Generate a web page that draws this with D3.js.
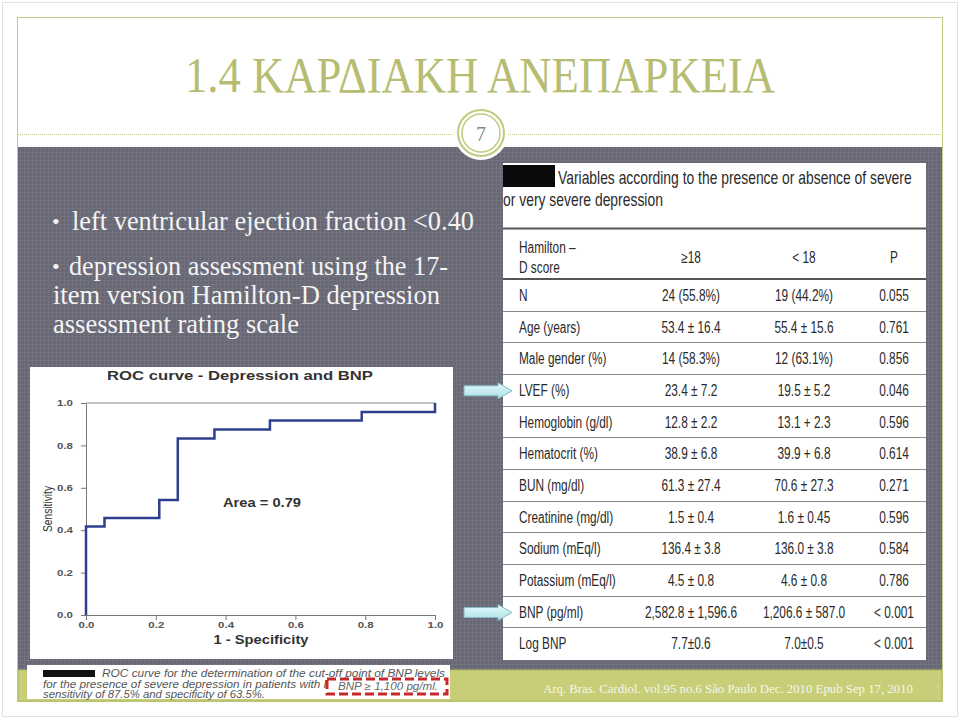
<!DOCTYPE html>
<meta charset="utf-8">
<style>
body { margin: 0; background: #fff; }
svg { display: block; }
.serif { font-family: "Liberation Serif", "DejaVu Serif", serif; }
.narrow { font-family: "Liberation Sans Narrow", "Liberation Sans", Arial, sans-serif; }
.sans { font-family: "Liberation Sans", Arial, sans-serif; }
</style>
<body>
<script src="https://d3js.org/d3.v7.min.js"></script>
<script>

var width = 960,
    height = 720;

// slide text
var slideTitle = "1.4 ΚΑΡΔΙΑΚΗ ΑΝΕΠΑΡΚΕΙΑ",
    slideNumber = "7",
    footer = "Arq. Bras. Cardiol. vol.95 no.6 São Paulo Dec. 2010  Epub Sep 17, 2010";

var bulletLines = [
  {bullet: true,  text: "left ventricular ejection fraction <0.40", x: 72, y: 230, len: 402},
  {bullet: true,  text: "depression assessment using the 17-",    x: 69, y: 275, len: 379},
  {bullet: false, text: "item version Hamilton-D depression",      x: 53, y: 304, len: 387},
  {bullet: false, text: "assessment rating scale",                 x: 53, y: 333, len: 246}
];

// ROC curve
var rocX = [0, 0, 0.053, 0.21, 0.263, 0.368, 0.527, 0.79, 1],
    rocY = [0, 0.417, 0.458, 0.542, 0.833, 0.875, 0.917, 0.958, 1],
    rocTicks = [0, 0.2, 0.4, 0.6, 0.8, 1.0],
    rocArea = "Area = 0.79";

// table
var tableTitle = ["Variables according to the presence or absence of severe", "or very severe depression"],
    tableHeader = ["≥18", "< 18", "P"],
    variables = ["N", "Age (years)", "Male gender (%)", "LVEF (%)", "Hemoglobin (g/dl)", "Hematocrit (%)",
                 "BUN (mg/dl)", "Creatinine (mg/dl)", "Sodium (mEq/l)", "Potassium (mEq/l)", "BNP (pg/ml)", "Log BNP"],
    highGroup = ["24 (55.8%)", "53.4 ± 16.4", "14 (58.3%)", "23.4 ± 7.2", "12.8 ± 2.2", "38.9 ± 6.8",
                 "61.3 ± 27.4", "1.5 ± 0.4", "136.4 ± 3.8", "4.5 ± 0.8", "2,582.8 ± 1,596.6", "7.7±0.6"],
    lowGroup  = ["19 (44.2%)", "55.4 ± 15.6", "12 (63.1%)", "19.5 ± 5.2", "13.1 + 2.3", "39.9 + 6.8",
                 "70.6 ± 27.3", "1.6 ± 0.45", "136.0 ± 3.8", "4.6 ± 0.8", "1,206.6 ± 587.0", "7.0±0.5"],
    pValues   = ["0.055", "0.761", "0.856", "0.046", "0.596", "0.614",
                 "0.271", "0.596", "0.584", "0.786", "< 0.001", "< 0.001"],
    arrowRows = ["LVEF (%)", "BNP (pg/ml)"];

// no narrow font installed: squeeze text horizontally instead
function squeeze(sel, f) {
  sel.each(function() {
    var l = this.getComputedTextLength();
    d3.select(this).attr("textLength", l * f).attr("lengthAdjust", "spacingAndGlyphs");
  });
}

var svg = d3.select("body").append("svg")
    .attr("width", width)
    .attr("height", height);

var defs = svg.append("defs");
var pat = defs.append("pattern")
    .attr("id", "grid")
    .attr("width", 4).attr("height", 4)
    .attr("patternUnits", "userSpaceOnUse");
pat.append("rect").attr("width", 4).attr("height", 4).attr("fill", "#676775");
pat.append("path").attr("d", "M0 0.5H4M0.5 0V4").attr("stroke", "#72727f").attr("stroke-width", 1);

var arrowGrad = defs.append("linearGradient").attr("id", "arrowGrad")
    .attr("x1", 0).attr("y1", 0).attr("x2", 0).attr("y2", 1);
arrowGrad.append("stop").attr("offset", "0%").attr("stop-color", "#e6fbfc");
arrowGrad.append("stop").attr("offset", "100%").attr("stop-color", "#a9dfe4");

// page frame
svg.append("rect")
    .attr("x", 2.5).attr("y", 2.5).attr("width", 955).attr("height", 714)
    .attr("fill", "#fff").attr("stroke", "#e2e2e2");

svg.append("rect")
    .attr("x", 17.5).attr("y", 17.5).attr("width", 925).attr("height", 684)
    .attr("fill", "#fff").attr("stroke", "#c4cb86");

// title
svg.append("text")
    .attr("class", "serif")
    .attr("x", 185).attr("y", 92)
    .attr("textLength", 590)
    .attr("lengthAdjust", "spacingAndGlyphs")
    .attr("font-size", 51)
    .attr("fill", "#b6bd72")
    .text(slideTitle);

// dotted rule
svg.append("line")
    .attr("x1", 18).attr("x2", 942).attr("y1", 134.5).attr("y2", 134.5)
    .attr("stroke", "#c3ca84").attr("stroke-dasharray", "1,1");

// dark content band
svg.append("rect")
    .attr("x", 18).attr("y", 147).attr("width", 924).attr("height", 523)
    .attr("fill", "url(#grid)");

// green footer strip
svg.append("rect")
    .attr("x", 18).attr("y", 670).attr("width", 924).attr("height", 31)
    .attr("fill", "#c7ce77").attr("stroke", "#b3ba66");

// slide number circle
var num = svg.append("g").attr("transform", "translate(481,133)");
num.append("circle").attr("r", 27).attr("fill", "#fff");
num.append("circle").attr("r", 23).attr("fill", "none").attr("stroke", "#c2c97d").attr("stroke-width", 2);
num.append("circle").attr("r", 19).attr("fill", "none").attr("stroke", "#c2c97d").attr("stroke-width", 1.5);
num.append("text")
    .attr("class", "serif")
    .attr("text-anchor", "middle")
    .attr("y", 8)
    .attr("font-size", 20)
    .attr("fill", "#7d8a86")
    .text(slideNumber);

// bullets
var bl = svg.append("g").attr("class", "serif").attr("fill", "#f4f4f4").attr("font-size", 27);
bl.selectAll("text.line")
  .data(bulletLines)
  .join("text")
    .attr("class", "line")
    .attr("x", d => d.x)
    .attr("y", d => d.y)
    .attr("textLength", d => d.len)
    .attr("lengthAdjust", "spacingAndGlyphs")
    .text(d => d.text);
bl.selectAll("text.dot")
  .data(bulletLines.filter(d => d.bullet))
  .join("text")
    .attr("class", "dot")
    .attr("x", 52)
    .attr("y", d => d.y - 1)
    .attr("font-size", 22)
    .text("•");

// ROC chart image
var roc = svg.append("g");
roc.append("rect")
    .attr("x", 30).attr("y", 367).attr("width", 423).attr("height", 292)
    .attr("fill", "#fff");

var x = d3.scaleLinear().domain([0, 1]).range([86, 435]),
    y = d3.scaleLinear().domain([0, 1]).range([615, 403]);

roc.append("text")
    .attr("class", "sans")
    .attr("x", 240).attr("y", 380)
    .attr("text-anchor", "middle")
    .attr("font-size", 13).attr("font-weight", "bold")
    .attr("textLength", 266).attr("lengthAdjust", "spacingAndGlyphs")
    .attr("fill", "#333")
    .text("ROC curve - Depression and BNP");

roc.append("line")
    .attr("x1", x(0)).attr("x2", x(1)).attr("y1", y(1)).attr("y2", y(1))
    .attr("stroke", "#888");

var xAxis = roc.append("g")
    .attr("transform", "translate(0," + y(0) + ")")
    .call(d3.axisBottom(x).tickValues(rocTicks).tickFormat(d3.format(".1f")).tickSize(5).tickSizeOuter(0));
var yAxis = roc.append("g")
    .attr("transform", "translate(" + x(0) + ",0)")
    .call(d3.axisLeft(y).tickValues(rocTicks).tickFormat(d3.format(".1f")).tickSize(5).tickSizeOuter(0));

[xAxis, yAxis].forEach(function(a) {
  a.select(".domain").attr("stroke", "#777");
  a.selectAll(".tick line").attr("stroke", "#777");
  a.selectAll(".tick text")
      .attr("class", "sans")
      .attr("font-size", 8.5).attr("font-weight", "bold")
      .attr("textLength", 16).attr("lengthAdjust", "spacingAndGlyphs")
      .attr("fill", "#555");
});
xAxis.selectAll(".tick text").attr("y", 7).attr("dy", "0.71em");
yAxis.selectAll(".tick text").attr("x", -13);

roc.append("text")
    .attr("class", "sans")
    .attr("x", 261).attr("y", 644)
    .attr("text-anchor", "middle")
    .attr("font-size", 12.5).attr("font-weight", "bold")
    .attr("textLength", 95).attr("lengthAdjust", "spacingAndGlyphs")
    .attr("fill", "#333")
    .text("1 - Specificity");

roc.append("text")
    .attr("class", "narrow")
    .attr("transform", "translate(52,509) rotate(-90)")
    .attr("text-anchor", "middle")
    .attr("font-size", 13)
    .attr("textLength", 46).attr("lengthAdjust", "spacingAndGlyphs")
    .attr("fill", "#333")
    .text("Sensitivity");

roc.append("text")
    .attr("class", "sans")
    .attr("x", 262).attr("y", 507)
    .attr("text-anchor", "middle")
    .attr("font-size", 12.5).attr("font-weight", "bold")
    .attr("textLength", 78).attr("lengthAdjust", "spacingAndGlyphs")
    .attr("fill", "#333")
    .text(rocArea);

var rocLine = d3.line()
    .x((d, i) => x(rocX[i]))
    .y((d, i) => y(rocY[i]))
    .curve(d3.curveStepAfter);

roc.append("path")
    .datum(rocX)
    .attr("d", rocLine)
    .attr("fill", "none")
    .attr("stroke", "#2e3f8f")
    .attr("stroke-width", 2.5);

// caption box under ROC
var cap = svg.append("g");
cap.append("rect")
    .attr("x", 27).attr("y", 665).attr("width", 423).attr("height", 34)
    .attr("fill", "#fff");
cap.append("rect")
    .attr("x", 43).attr("y", 670).attr("width", 52).attr("height", 7)
    .attr("fill", "#111");
var capText = cap.append("g")
    .attr("class", "sans")
    .attr("font-size", 10)
    .attr("font-style", "italic")
    .attr("fill", "#555");
var capLines = [
  {t: "ROC curve for the determination of the cut-off point of BNP levels", x: 102, y: 677, len: 343},
  {t: "for the presence of severe depression in patients with H", x: 43, y: 688, len: 289},
  {t: "sensitivity of 87.5% and specificity of 63.5%.", x: 43, y: 698, len: 222}
];
capText.selectAll("text")
  .data(capLines)
  .join("text")
    .attr("x", d => d.x).attr("y", d => d.y)
    .attr("textLength", d => d.len).attr("lengthAdjust", "spacingAndGlyphs")
    .text(d => d.t);
cap.append("rect")
    .attr("x", 327).attr("y", 679).attr("width", 120).attr("height", 15)
    .attr("fill", "#fff")
    .attr("stroke", "#c8282b").attr("stroke-width", 3)
    .attr("stroke-dasharray", "9,4");
cap.append("text")
    .attr("class", "sans")
    .attr("font-size", 10.5)
    .attr("font-style", "italic")
    .attr("fill", "#666")
    .attr("x", 338).attr("y", 690)
    .attr("textLength", 100).attr("lengthAdjust", "spacingAndGlyphs")
    .text("BNP ≥ 1,100 pg/ml.");

// footer text
svg.append("text")
    .attr("class", "serif")
    .attr("x", 543).attr("y", 693)
    .attr("textLength", 370)
    .attr("lengthAdjust", "spacingAndGlyphs")
    .attr("font-size", 13)
    .attr("fill", "#f6f6ea")
    .text(footer);
svg.append("text")
    .attr("class", "serif")
    .attr("x", 936).attr("y", 690)
    .attr("font-size", 10)
    .attr("fill", "#f6f6ea")
    .text("·");

// table image
var tb = svg.append("g");
tb.append("rect")
    .attr("x", 503).attr("y", 163).attr("width", 423).attr("height", 497)
    .attr("fill", "#fff");
tb.append("rect")
    .attr("x", 503).attr("y", 165).attr("width", 52).attr("height", 22)
    .attr("fill", "#0a0a0a");

var tText = tb.append("g").attr("class", "narrow").attr("fill", "#2a2a2a");

// title lines: squeezed with a transform so their box is the drawn one
var titlePos = [{x: 558, y: 184, w: 354}, {x: 503, y: 206, w: 160}];
tText.selectAll("text.ttl")
  .data(tableTitle)
  .join("text")
    .attr("class", "ttl")
    .attr("font-size", 17.5)
    .text(d => d)
    .attr("transform", function(d, i) {
      var p = titlePos[i],
          k = p.w / this.getComputedTextLength();
      return "translate(" + p.x + "," + p.y + ") scale(" + k + ",1)";
    });

var colX = [519, 691, 804, 894];

var rows = d3.scaleBand()
    .domain(variables)
    .range([279, 659]);

// rules
tb.append("line").attr("x1", 503).attr("x2", 926).attr("y1", 228.5).attr("y2", 228.5)
    .attr("stroke", "#555").attr("stroke-width", 2);
tb.append("line").attr("x1", 503).attr("x2", 926).attr("y1", 279).attr("y2", 279)
    .attr("stroke", "#555").attr("stroke-width", 2);
tb.selectAll("line.sep")
  .data(variables.slice(1))
  .join("line")
    .attr("class", "sep")
    .attr("x1", 503).attr("x2", 926)
    .attr("y1", d => Math.round(rows(d)) + 0.5)
    .attr("y2", d => Math.round(rows(d)) + 0.5)
    .attr("stroke", "#8a8a8a")
    .attr("stroke-width", 1.2);

// header
tText.append("text").attr("class", "sq").attr("x", colX[0]).attr("y", 253).attr("font-size", 16).text("Hamilton –");
tText.append("text").attr("class", "sq").attr("x", colX[0]).attr("y", 273).attr("font-size", 16).text("D score");
tText.selectAll("text.head")
  .data(tableHeader)
  .join("text")
    .attr("class", "head sq")
    .attr("x", (d, i) => colX[i + 1])
    .attr("y", 263)
    .attr("text-anchor", "middle")
    .attr("font-size", 16)
    .text(d => d);

// body
var cols = [variables, highGroup, lowGroup, pValues];
cols.forEach(function(col, c) {
  tText.selectAll("text.c" + c)
    .data(col)
    .join("text")
      .attr("class", "c" + c + " sq")
      .attr("x", colX[c])
      .attr("y", (d, i) => rows(variables[i]) + rows.bandwidth() / 2 + 6)
      .attr("text-anchor", c === 0 ? "start" : "middle")
      .attr("font-size", 16)
      .text(d => d);
});
squeeze(tText.selectAll("text.sq"), 0.74);

// arrows pointing at rows
svg.selectAll("path.arrow")
  .data(arrowRows)
  .join("path")
    .attr("class", "arrow")
    .attr("transform", d => "translate(464," + (rows(d) + rows.bandwidth() / 2 + 1) + ")")
    .attr("d", "M0,-5H34V-8L48,0L34,8V5H0Z")
    .attr("fill", "url(#arrowGrad)")
    .attr("stroke", "#86b9c2")
    .attr("stroke-width", 1);

</script>
</body>
